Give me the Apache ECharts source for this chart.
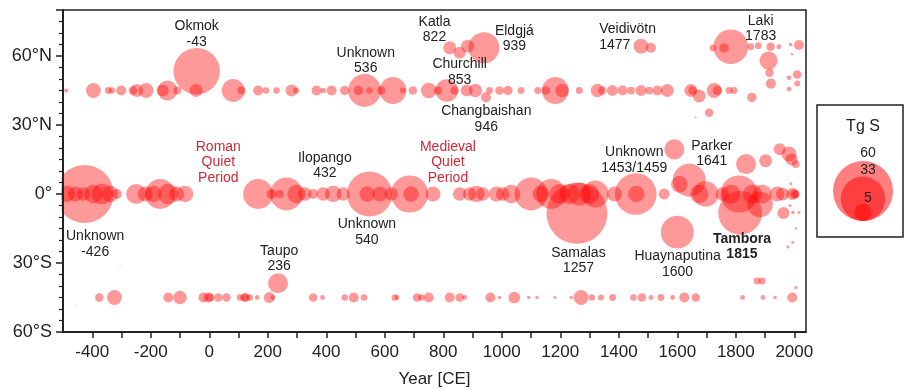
<!DOCTYPE html>
<html>
<head>
    <meta charset="utf-8">
    <title>Volcanic sulfur injections</title>
    <script src="https://cdn.jsdelivr.net/npm/echarts@6/dist/echarts.min.js"></script>
</head>
<body style="margin:0;background:#fff">
    <div id="main" style="width:906px;height:390px;"></div>
    <script type="text/javascript">
        // unidentified eruptions, plotted on the three latitude bands: [year, Tg S]
        var nhBand = [[-489, 0.3], [-396, 3.7], [-345, 0.8], [-333, 0.7], [-301, 1.7], [-261, 1.2], [-248, 2.8],
            [-216, 3.7], [-159, 2.4], [-143, 6.7], [-109, 1.1], [-45, 2.8], [82, 8.8], [110, 1.1], [167, 1.7],
            [194, 0.7], [230, 0.7], [281, 2.4], [297, 0.6], [367, 1.7], [390, 0.5], [418, 1.7], [463, 1.5],
            [510, 1.5], [531, 18], [548, 0.7], [588, 1.2], [628, 12], [662, 0.6], [696, 1.2], [750, 4],
            [782, 1.2], [812, 8.5], [839, 1.2], [880, 2.4], [910, 3], [958, 0.8], [992, 1.2], [1021, 1.5],
            [1066, 0.8], [1123, 0.8], [1151, 1.2], [1183, 12], [1206, 3], [1265, 0.8], [1327, 3], [1344, 1.2],
            [1378, 2], [1413, 1.7], [1442, 1], [1476, 2], [1504, 1], [1532, 1.7], [1566, 2.8], [1646, 2.8],
            [1652, 1.2], [1726, 3.7], [1737, 1.5], [1777, 0.8], [1794, 0.8]];
        var tropBand = [[-487, 4.6], [-458, 3.7], [-430, 3], [-396, 5.6], [-367, 7], [-339, 4.6], [-316, 1.7],
            [-250, 6.7], [-219, 3.7], [-191, 4.6], [-168, 15], [-140, 7], [-111, 3.7], [-83, 4.6], [167, 15],
            [213, 1.7], [241, 1.2], [264, 18], [298, 5.6], [327, 3], [355, 1.7], [389, 3], [424, 4.6],
            [458, 3], [548, 34], [583, 3.7], [622, 3], [685, 23], [690, 4], [765, 3.7], [856, 3], [890, 3],
            [913, 4.6], [935, 3], [981, 3.7], [1003, 3], [1032, 5.6], [1100, 18], [1134, 4.6], [1169, 15],
            [1197, 6.7], [1231, 6.7], [1265, 9], [1299, 6.7], [1320, 12], [1385, 3.7], [1458, 29], [1460, 4.6],
            [1555, 2], [1675, 5.6], [1697, 11], [1754, 3], [1783, 6], [1811, 23], [1857, 6], [1890, 6],
            [1941, 3.7], [1960, 2.8], [1993, 2.5], [2000, 1.5], [2005, 1]];
        var shBand = [[-376, 1.2], [-324, 3.7], [-140, 1.7], [-100, 3], [-20, 1.7], [-3, 1.7], [3, 1.2],
            [31, 1.2], [59, 1.2], [105, 0.7], [120, 1.2], [125, 1.2], [139, 0.7], [164, 0.4], [205, 2],
            [218, 0.4], [355, 1.2], [387, 0.4], [463, 0.7], [494, 1.7], [529, 0.7], [634, 0.7], [642, 0.4],
            [710, 1.2], [725, 0.7], [750, 1.7], [822, 1.7], [856, 1.2], [873, 0.4], [961, 1.7], [992, 0.2],
            [1043, 2.3], [1092, 0.2], [1120, 0.2], [1182, 0.15], [1237, 0.2], [1271, 3.7], [1308, 0.7],
            [1339, 0.6], [1379, 0.8], [1450, 0.7], [1479, 1.2], [1510, 0.4], [1544, 0.8], [1584, 0.4],
            [1624, 1.7], [1663, 1.2], [1823, 0.4], [1893, 0.4], [1934, 0.2], [1993, 1.7]];
        // eruptions with a known location: [year, latitude, Tg S]
        var located = [[-426, 0, 56], [-43, 53.4, 36], [235, -38.8, 6.7], [540, 0, 4], [822, 63.6, 2.8],
            [856, 61.4, 2.4], [883, 64.3, 2.8], [939, 63.6, 16], [946, 42, 1.7], [1257, -8.4, 62],
            [1476, 64.3, 3.7], [1510, 63.6, 1.7], [1590, 19.4, 6.7], [1600, -16.6, 18], [1607, 4.2, 4.6],
            [1641, 6, 18], [1663, 33.3, 0.05], [1675, 42.6, 2.8], [1709, 35.3, 1.2], [1722, 63.5, 0.8],
            [1760, 63.5, 1.5], [1783, 64, 20], [1815, -8.2, 32], [1835, 13, 6.7], [1851, 64, 0.8],
            [1855, 42, 1.5], [1873, -37.8, 0.8], [1877, 64.5, 0.8], [1883, -4.5, 11], [1890, -37.8, 0.8],
            [1902, 14.5, 2.8], [1912, 58, 5.4], [1915, 52.7, 1.2], [1919, 64, 1.2], [1920, 48, 1.7],
            [1947, 64, 0.4], [1950, 19.5, 2.4], [1963, -8.3, 2.4], [1978, -23, 0.15], [1982, 17.4, 3.7],
            [1982, 50.5, 0.4], [1982, 45.6, 0.4], [1985, -5, 0.15], [1987, 65, 0.2], [1988, 4.5, 0.15],
            [1991, 15, 2.5], [1992, 60.8, 0.1], [1995, -8, 0.2], [1995, -21, 0.15], [2005, 13, 1],
            [2005, -15, 0.1], [2005, -40.7, 0.2], [2010, 52, 1.2], [2010, 48, 0.6], [2016, 64.8, 1.7],
            [2016, -8, 0.15], [-458, -48.7, 0.02], [-305, -31, 0.02]];

        var yTickValues = [-60, -30, 0, 30, 60];
        var yTickLabels = ['60°S', '30°S', '0°', '30°N', '60°N'];
        var legendSizes = [60, 33, 5];

        // text notes: lines, anchor [year, lat]
        var notes = [
            { lines: ['Okmok', '-43'], at: [-43, 69.4] },
            { lines: ['Unknown', '536'], at: [535, 58] },
            { lines: ['Katla', '822'], at: [770, 71.5] },
            { lines: ['Eldgjá', '939'], at: [1043, 67.6] },
            { lines: ['Churchill', '853'], at: [856, 52.9] },
            { lines: ['Changbaishan', '946'], at: [947, 32.6] },
            { lines: ['Ilopango', '432'], at: [395, 12.3] },
            { lines: ['Roman', 'Quiet', 'Period'], at: [31, 13.8], red: true },
            { lines: ['Medieval', 'Quiet', 'Period'], at: [816, 13.8], red: true },
            { lines: ['Veidivötn', '1477'], at: [1333, 68.3], left: true },
            { lines: ['Laki', '1783'], at: [1885, 72] },
            { lines: ['Unknown', '1453/1459'], at: [1453, 14.7] },
            { lines: ['Parker', '1641'], at: [1718, 17.6] },
            { lines: ['Unknown', '-426'], at: [-390, -21.7] },
            { lines: ['Taupo', '236'], at: [239, -28.2] },
            { lines: ['Unknown', '540'], at: [539, -16.6] },
            { lines: ['Samalas', '1257'], at: [1262, -28.9] },
            { lines: ['Huaynaputina', '1600'], at: [1601, -30.6] },
            { lines: ['Tambora', '1815'], at: [1821, -22.8], bold: true }
        ];

        var points = [];
        nhBand.forEach(function (p) { points.push([p[0], 45, p[1]]); });
        tropBand.forEach(function (p) { points.push([p[0], 0, p[1]]); });
        shBand.forEach(function (p) { points.push([p[0], -45, p[1]]); });
        located.forEach(function (p) { points.push(p); });

        var FONT = '"Liberation Sans", Arial, sans-serif';
        var bubbleColor = 'rgba(255,0,0,0.5)';
        function sizeOf(s) { return Math.sqrt(60 * s); }

        var myChart = echarts.init(document.getElementById('main'));
        var option = {
            backgroundColor: '#fff',
            animation: false,
            grid: { left: 63, right: 100, top: 10, bottom: 58, outerBoundsMode: 'none',
                    show: true, borderColor: '#222', borderWidth: 1.5 },
            xAxis: {
                type: 'value', min: -500, max: 2040, interval: 100, z: 5,
                name: 'Year [CE]', nameLocation: 'middle', nameGap: 39,
                nameTextStyle: { fontSize: 17, color: '#222', fontFamily: FONT },
                axisLine: { onZero: false, lineStyle: { color: '#222', width: 2 } },
                axisTick: { length: 6, lineStyle: { color: '#222', width: 1.5 } },
                axisLabel: {
                    fontSize: 17, color: '#222', fontFamily: FONT, margin: 12,
                    showMinLabel: false, showMaxLabel: false,
                    formatter: function (v) { return v % 200 === 0 ? String(v) : ''; }
                },
                splitLine: { show: false }
            },
            yAxis: {
                type: 'value', min: -60, max: 80, interval: 30, z: 5,
                axisLine: { onZero: false, lineStyle: { color: '#222', width: 2 } },
                axisTick: { length: 7, lineStyle: { color: '#222', width: 1.5 } },
                minorTick: { show: true, splitNumber: 6, length: 4, lineStyle: { color: '#222', width: 1.2 } },
                axisLabel: {
                    fontSize: 18, color: '#222', fontFamily: FONT, margin: 11,
                    formatter: function (v) {
                        var i = yTickValues.indexOf(v);
                        return i >= 0 ? yTickLabels[i] : '';
                    }
                },
                splitLine: { show: false }
            },
            series: [{
                type: 'scatter',
                data: points,
                symbolSize: function (d) { return sizeOf(d[2]); },
                itemStyle: { color: bubbleColor, borderWidth: 0 },
                z: 2
            }]
        };
        myChart.setOption(option);

        // overlay: mask left of the axis, legend box, annotations
        var gfx = [
            { type: 'rect', z: 3, shape: { x: 0, y: 0, width: 61.5, height: 340 }, style: { fill: '#fff' } },
            { type: 'rect', z: 3, shape: { x: 817, y: 105, width: 86, height: 132 },
              style: { fill: '#fff', stroke: '#222', lineWidth: 1.5 } },
            { type: 'text', z: 4, style: { text: 'Tg S', x: 863, y: 127, textAlign: 'center', textVerticalAlign: 'middle',
              font: '16px ' + FONT, fill: '#222' } }
        ];
        var legendBottom = 221;
        var legendLabelY = [153, 170, 198];
        legendSizes.forEach(function (s, i) {
            var r = sizeOf(s) / 2;
            gfx.push({ type: 'circle', z: 4, shape: { cx: 863, cy: legendBottom - r, r: r }, style: { fill: bubbleColor } });
            gfx.push({ type: 'text', z: 5, style: { text: String(s), x: 868, y: legendLabelY[i], textAlign: 'center',
                textVerticalAlign: 'middle', font: '14px ' + FONT, fill: '#222' } });
        });
        notes.forEach(function (n) {
            var px = myChart.convertToPixel({ gridIndex: 0 }, n.at);
            var lh = 15.5;
            var y0 = px[1] - (n.lines.length - 1) * lh / 2;
            n.lines.forEach(function (t, k) {
                gfx.push({ type: 'text', z: 4, style: {
                    text: t, x: px[0], y: y0 + k * lh,
                    textAlign: n.left ? 'left' : 'center', textVerticalAlign: 'middle',
                    font: (n.bold ? 'bold ' : '') + '14px ' + FONT,
                    fill: n.red ? '#cc2a36' : '#222'
                } });
            });
        });
        myChart.setOption({ graphic: gfx });
        window.onresize = myChart.resize;
    </script>
</body>
</html>
